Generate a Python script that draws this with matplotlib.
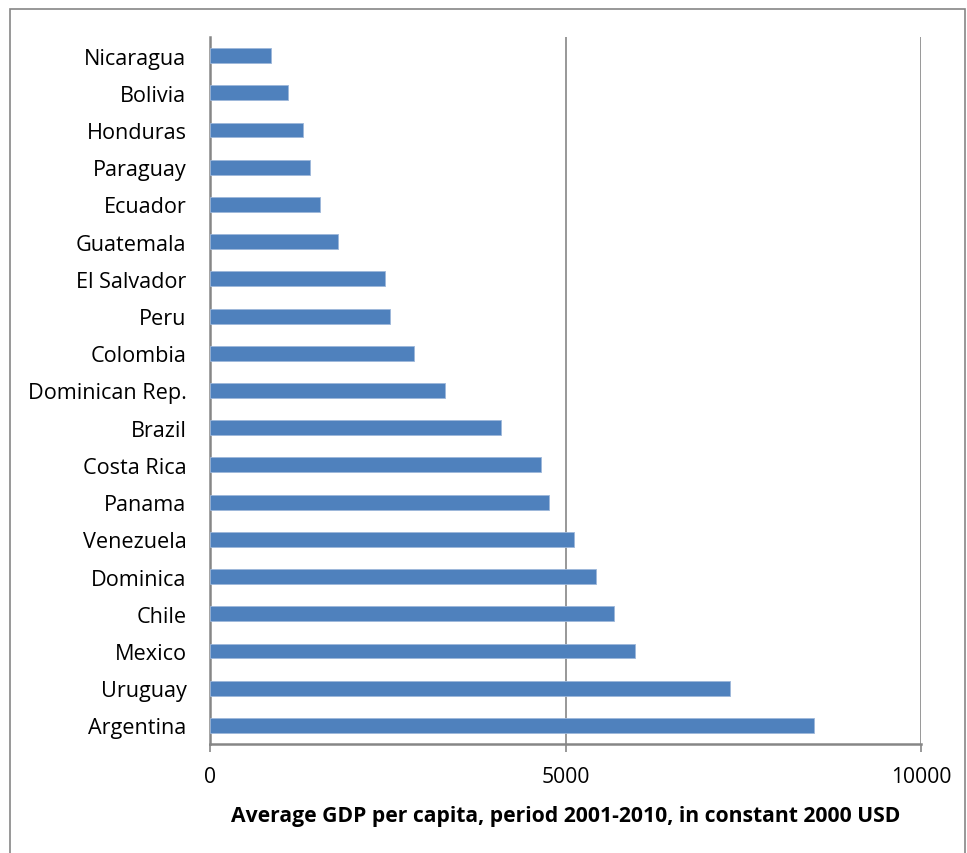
import matplotlib
matplotlib.use("Agg")
import matplotlib.pyplot as plt
from matplotlib.patches import Rectangle

countries = ["Nicaragua", "Bolivia", "Honduras", "Paraguay", "Ecuador", "Guatemala",
             "El Salvador", "Peru", "Colombia", "Dominican Rep.", "Brazil", "Costa Rica",
             "Panama", "Venezuela", "Dominica", "Chile", "Mexico", "Uruguay", "Argentina"]
gdp = [864, 1103, 1304, 1403, 1553, 1797, 2458, 2528, 2866, 3302, 4096, 4662,
       4762, 5126, 5434, 5686, 5981, 7307, 8493]
xticks = [0, 5000, 10000]
xlabel = "Average GDP per capita, period 2001-2010, in constant 2000 USD"

plt.rcParams["font.family"] = ["Open Sans", "DejaVu Sans"]

W, H = 967, 854
fig = plt.figure(figsize=(W / 100, H / 100), dpi=100)
ax = fig.add_axes([210 / W, 1 - 745 / H, (921 - 210) / W, (745 - 38) / H])

grey = "#868686"
ypos = list(range(len(countries)))
ax.barh(ypos, gdp, height=0.4, color="#4F81BD", edgecolor="#9DB7DA", linewidth=0.6, zorder=3)
ax.set_ylim(len(countries) - 0.5, -0.5)
ax.set_yticks(ypos)
ax.set_yticklabels(countries, fontsize=15.6)
ax.tick_params(axis="y", length=0, pad=17)

ax.set_xlim(0, 10000)
ax.set_xticks(xticks)
ax.set_xticklabels([str(v) for v in xticks], fontsize=15.2)
ax.tick_params(axis="x", length=6, width=1.2, color=grey, pad=10, direction="out")
ax.xaxis.grid(True, color=grey, linewidth=1.2, zorder=0)
ax.set_axisbelow(True)

for s in ["top", "right"]:
    ax.spines[s].set_visible(False)
for s in ["left", "bottom"]:
    ax.spines[s].set_color(grey)
    ax.spines[s].set_linewidth(1.8)

ax.set_xlabel(xlabel, fontsize=15.2, fontweight="bold", labelpad=13)

fig.patches.append(Rectangle((10 / W, -0.05), (965 - 10) / W, 1 - 10 / H + 0.05,
                             transform=fig.transFigure, fill=False,
                             edgecolor=grey, linewidth=1.2))

fig.savefig("out.png", dpi=100)
